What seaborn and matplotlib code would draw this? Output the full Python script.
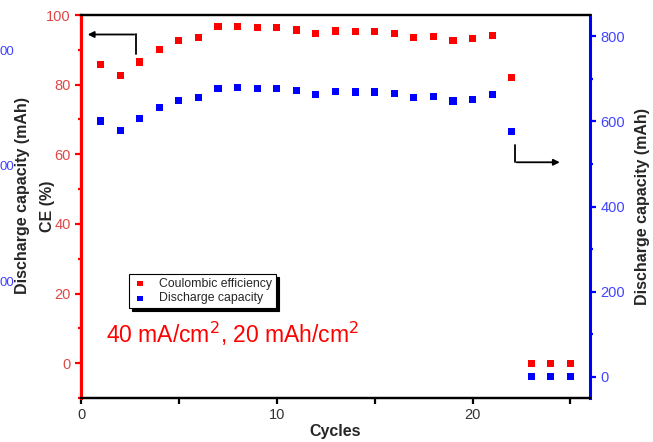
import matplotlib
matplotlib.use("Agg")
import matplotlib.pyplot as plt
from matplotlib.ticker import MultipleLocator
import seaborn as sns
import pandas as pd

## data
cycles = [1, 2, 3, 4, 5, 6, 7, 8, 9, 10, 11, 12, 13, 14, 15, 16, 17, 18, 19, 20, 21, 22, 23, 24, 25]
ce = [85.7, 82.5, 86.5, 90.2, 92.7, 93.6, 96.7, 96.8, 96.5, 96.5, 95.7, 94.6, 95.4, 95.2,
      95.2, 94.6, 93.5, 93.8, 92.7, 93.2, 94.1, 82.0, 0, 0, 0]
capacity = [601, 578, 606, 632, 650, 656, 677, 679, 677, 677, 673, 664, 670, 669,
            669, 666, 657, 658, 648, 652, 663, 576, 0, 0, 0]
outer_ticks = ["00", "00", "00"]   # cut-off labels of the cropped left axis

df = pd.DataFrame({"Cycles": cycles, "CE": ce, "Capacity": capacity})

sns.set_style("ticks")
plt.rcParams["font.family"] = ["Liberation Sans", "DejaVu Sans"]

fig = plt.figure(figsize=(6.53, 4.42), dpi=100)
ax = fig.add_axes([81/653, 1 - 398/442, 509/653, 383/442])
ax2 = ax.twinx()

red = "#ff0000"
blue = "#0000ff"

sns.scatterplot(data=df, x="Cycles", y="CE", ax=ax, marker="s", s=26, color=red,
                edgecolor="none", label="Coulombic efficiency", legend=False, zorder=3)
sns.scatterplot(data=df, x="Cycles", y="Capacity", ax=ax2, marker="s", s=26, color=blue,
                edgecolor="none", label="Discharge capacity", legend=False, zorder=3)

ax.set_xlim(0, 26)
ax.set_ylim(-10, 100)
ax2.set_ylim(-50, 850)

ax.xaxis.set_major_locator(MultipleLocator(10))
ax.xaxis.set_minor_locator(MultipleLocator(5))
ax.yaxis.set_major_locator(MultipleLocator(20))
ax.yaxis.set_minor_locator(MultipleLocator(10))
ax2.yaxis.set_major_locator(MultipleLocator(200))
ax2.yaxis.set_minor_locator(MultipleLocator(100))

# spines
for a in (ax, ax2):
    for s in a.spines.values():
        s.set_linewidth(1.6)
        s.set_color("black")
ax2.spines["left"].set_color(red)
ax2.spines["left"].set_linewidth(2.2)
ax2.spines["right"].set_color(blue)
ax2.spines["right"].set_linewidth(2.2)
ax.spines["left"].set_color(red)
ax.spines["right"].set_visible(False)

ax.tick_params(axis="x", which="both", direction="out", width=1.6, colors="black",
               labelcolor="#333333", labelsize=10.5, length=4)
ax.tick_params(axis="y", which="major", direction="out", width=1.6, length=4, colors=red,
               labelcolor="#e04848", labelsize=10.5)
ax.tick_params(axis="y", which="minor", direction="out", width=1.6, length=2.5, colors=red)
ax2.tick_params(axis="y", which="major", direction="out", width=1.6, length=4, colors=blue,
                labelcolor="#4444ff", labelsize=10.5)
ax2.tick_params(axis="y", which="minor", direction="out", width=1.6, length=2.5, colors=blue)

ax.set_xlabel("Cycles", fontsize=11.5, fontweight="bold", labelpad=1)
ax.set_ylabel("CE (%)", fontsize=11.5, fontweight="bold")
ax.yaxis.set_label_coords(-0.052, 0.5)
ax2.set_ylabel("Discharge capacity (mAh)", fontsize=11.5, fontweight="bold", labelpad=7)

# leftover axis from the cropped figure on the far left
fig.text(23/653, 1 - 195/442, "Discharge capacity (mAh)", rotation=90, fontsize=11.5,
         fontweight="bold", ha="center", va="center")
for lab, ypx in zip(outer_ticks, [52, 167, 283]):
    fig.text(0, 1 - ypx/442, lab, color="#4444ff", fontsize=9.5, ha="left", va="center")

# arrows
ax.plot([2.82, 2.82], [88.9, 94.4], color="black", lw=1.3, zorder=2)
ax.annotate("", xy=(0.2, 94.4), xytext=(2.86, 94.4),
            arrowprops=dict(arrowstyle="-|>", color="black", lw=1.3, mutation_scale=9))
ax.plot([22.15, 22.15], [62.7, 57.7], color="black", lw=1.3, zorder=2)
ax.annotate("", xy=(24.6, 57.7), xytext=(22.11, 57.7),
            arrowprops=dict(arrowstyle="-|>", color="black", lw=1.3, mutation_scale=9))

ax.text(1.3, 8.3, "40 mA/cm$^2$, 20 mAh/cm$^2$", color=red, fontsize=16.5,
        ha="left", va="center")

h1, l1 = ax.get_legend_handles_labels()
h2, l2 = ax2.get_legend_handles_labels()
leg = ax2.legend(h1 + h2, l1 + l2, loc="upper left", bbox_to_anchor=(0.082, 0.339),
                 fontsize=8.8, frameon=True, fancybox=False, edgecolor="black",
                 shadow={"color": "black", "alpha": 1}, handlelength=1.2,
                 handletextpad=1.0, borderpad=0.3, labelspacing=0.2, markerscale=0.75)
leg.get_frame().set_linewidth(0.8)

fig.savefig("out.png", dpi=100)
